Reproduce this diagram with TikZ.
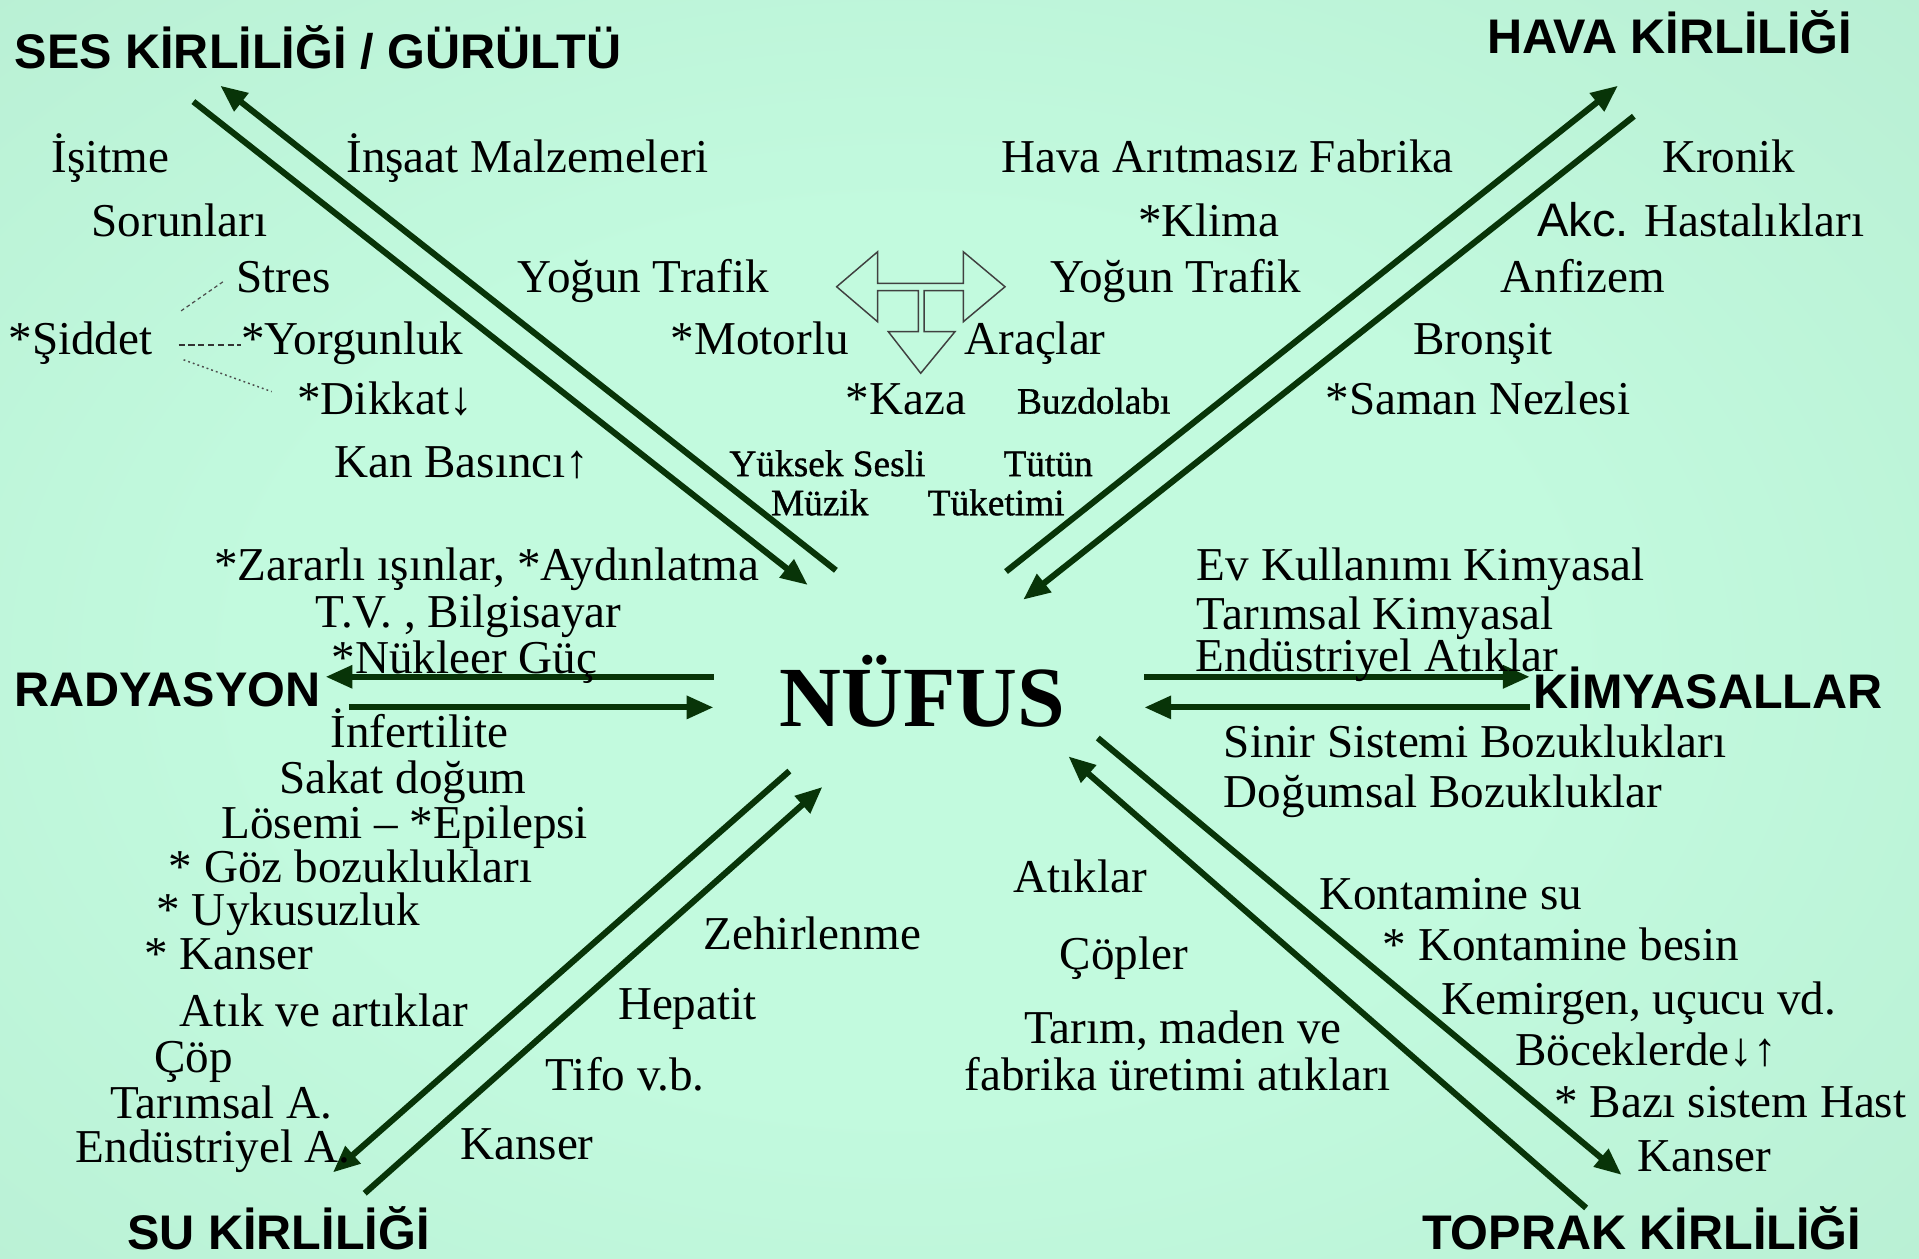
\documentclass[tikz,border=0pt]{standalone}
\usepackage{fontspec}
\setmainfont{Liberation Serif}
\newfontfamily\hfont{Liberation Sans}
\newfontfamily\smfont[FakeBold=0.9]{Liberation Serif}
\usetikzlibrary{arrows.meta}
\definecolor{bgin}{RGB}{194,250,222}
\definecolor{bgmid}{RGB}{170,222,196}
\definecolor{bgout}{RGB}{156,206,180}
\definecolor{arr}{RGB}{8,52,8}
\pgfdeclareradialshading{bgshade}{\pgfpoint{0bp}{0bp}}{color(0bp)=(bgin); color(14bp)=(bgin); color(56bp)=(bgmid); color(70bp)=(bgout)}
\begin{document}
\begin{tikzpicture}[x=1pt,y=-1pt,
  every node/.style={inner sep=0pt,outer sep=0pt},
  txt/.style={font=\fontsize{38.5}{44}\selectfont,anchor=base west},
  smalltxt/.style={font=\smfont\fontsize{30.5}{35}\selectfont,anchor=base west},
  headtxt/.style={font=\hfont\bfseries\fontsize{39.7}{44}\selectfont,anchor=base west},
  bigarrow/.style={draw=arr,line width=5pt,-{Triangle[length=22pt,width=18pt]}},
  dashlink/.style={draw=black!70,line width=1pt,dash pattern=on 3pt off 2.5pt},
  hyphlink/.style={draw=black!80,line width=1.6pt,dash pattern=on 5pt off 3pt},
  dotlink/.style={draw=black!70,line width=1.2pt,dash pattern=on 1.5pt off 2.5pt},
  blockarrow/.style={draw=black!75,line width=1.2pt}]
\useasboundingbox (0,0) rectangle (1568,1028);
\begin{scope}
\clip (0,0) rectangle (1568,1028);
\shade[shading=bgshade] (-210,-110) rectangle (1690,1190);
\end{scope}

% arrow end points
\coordinate (sesA1) at (158,83);  \coordinate (sesA2) at (660,478);
\coordinate (sesB1) at (683,466); \coordinate (sesB2) at (180,70);
\coordinate (havC1) at (822,467); \coordinate (havC2) at (1322,70);
\coordinate (havD1) at (1335,95); \coordinate (havD2) at (836,490);
\coordinate (radU1) at (583,553); \coordinate (radU2) at (266,553);
\coordinate (radL1) at (285,578); \coordinate (radL2) at (583,578);
\coordinate (kimU1) at (935,553); \coordinate (kimU2) at (1250,553);
\coordinate (kimL1) at (1250,578); \coordinate (kimL2) at (935,578);
\coordinate (suE1) at (645,630);  \coordinate (suE2) at (272,958);
\coordinate (suF1) at (298,975);  \coordinate (suF2) at (672,643);
\coordinate (topG1) at (897,603); \coordinate (topG2) at (1325,960);
\coordinate (topH1) at (1296,987); \coordinate (topH2) at (873,618);

\draw[bigarrow] (sesA1) -- (sesA2);
\draw[bigarrow] (sesB1) -- (sesB2);
\draw[bigarrow] (havC1) -- (havC2);
\draw[bigarrow] (havD1) -- (havD2);
\draw[bigarrow] (radU1) -- (radU2);
\draw[bigarrow] (radL1) -- (radL2);
\draw[bigarrow] (kimU1) -- (kimU2);
\draw[bigarrow] (kimL1) -- (kimL2);
\draw[bigarrow] (suE1) -- (suE2);
\draw[bigarrow] (suF1) -- (suF2);
\draw[bigarrow] (topG1) -- (topG2);
\draw[bigarrow] (topH1) -- (topH2);

% three-headed block arrow
\draw[blockarrow] (683.6,234.3) -- (717.1,205.7) -- (717.1,231.5) -- (787.1,231.5) -- (787.1,205.7)
  -- (821.2,234.3) -- (787.1,262.9) -- (787.1,237.5) -- (755,237.5) -- (755,271) -- (780.3,271)
  -- (752.3,305) -- (725.8,271) -- (750.3,271) -- (750.3,237.5) -- (717.1,237.5) -- (717.1,262.9) -- cycle;

% headings
\node[headtxt] (ses) at (12,56) {SES KİRLİLİĞİ / GÜRÜLTÜ};
\node[headtxt] (hava) at (1215,44) {HAVA KİRLİLİĞİ};
\node[headtxt] (rad) at (12,577) {RADYASYON};
\node[headtxt] (kim) at (1253,579) {KİMYASALLAR};
\node[headtxt] (su) at (104,1021) {SU KİRLİLİĞİ};
\node[headtxt] (toprak) at (1162,1021) {TOPRAK KİRLİLİĞİ};
\node[font=\bfseries\fontsize{70}{78}\selectfont,anchor=base west] (nufus) at (637,594) {NÜFUS};

% noise
\node[txt] (isitme) at (42,141) {İşitme};
\node[txt] (sorun) at (75,193) {Sorunları};
\node[txt] (stres) at (193,239) {Stres};
\node[txt] (siddet) at (7,290) {*Şiddet};
\node[txt] (yorg) at (197,290) {*Yorgunluk};
\node[txt] (dikkat) at (243,339) {*Dikkat↓};
\node[txt] (kan) at (273,390) {Kan Basıncı↑};
\node[txt] (insaat) at (283,141) {İnşaat Malzemeleri};
\node[txt] (yogun1) at (423,239) {Yoğun Trafik};
\node[txt] (motor) at (548,290) {*Motorlu};
\node[txt] (arac) at (788,290) {Araçlar};
\node[txt] (kaza) at (691,339) {*Kaza};
\node[smalltxt] (buz) at (831,338) {Buzdolabı};
\node[smalltxt] (yuksek) at (596,389) {Yüksek Sesli};
\node[smalltxt] (muzik) at (630,421) {Müzik};
\node[smalltxt] (tutun) at (820,389) {Tütün};
\node[smalltxt] (tuket) at (758,421) {Tüketimi};

\coordinate (dS1) at (148,254); \coordinate (dS2) at (184,229);
\coordinate (dY1) at (146,282); \coordinate (dY2) at (197,282);
\coordinate (dD1) at (150,294); \coordinate (dD2) at (222,320);
\draw[dashlink] (dS1) -- (dS2);
\draw[hyphlink] (dY1) -- (dY2);
\draw[dotlink] (dD1) -- (dD2);

% air
\node[txt] (fabrika) at (818,141) {Hava Arıtmasız Fabrika};
\node[txt] (klima) at (930,193) {*Klima};
\node[txt] (yogun2) at (858,239) {Yoğun Trafik};
\node[txt] (kronik) at (1358,141) {Kronik};
\node[txt] (akc) at (1256,193) {{\hfont Akc.} Hastalıkları};
\node[txt] (anfizem) at (1226,239) {Anfizem};
\node[txt] (bronsit) at (1155,290) {Bronşit};
\node[txt] (saman) at (1083,339) {*Saman Nezlesi};

% radiation
\node[txt] (zarar) at (175,474) {*Zararlı ışınlar, *Aydınlatma};
\node[txt] (tv) at (258,513) {T.V. , Bilgisayar};
\node[txt] (nukleer) at (271,550) {*Nükleer Güç};
\node[txt] (infert) at (270,611) {İnfertilite};
\node[txt] (sakat) at (228,648) {Sakat doğum};
\node[txt] (losemi) at (181,685) {Lösemi – *Epilepsi};
\node[txt] (goz) at (138,721) {* Göz bozuklukları};
\node[txt] (uyku) at (128,756) {* Uykusuzluk};
\node[txt] (kanser1) at (118,792) {* Kanser};

% chemicals
\node[txt] (evk) at (978,474) {Ev Kullanımı Kimyasal};
\node[txt] (tarimk) at (978,514) {Tarımsal Kimyasal};
\node[txt] (endk) at (977,549) {Endüstriyel Atıklar};
\node[txt] (sinir) at (1000,619) {Sinir Sistemi Bozuklukları};
\node[txt] (dogum) at (1000,660) {Doğumsal Bozukluklar};

% water
\node[txt] (atik) at (147,839) {Atık ve artıklar};
\node[txt] (cop) at (126,876) {Çöp};
\node[txt] (tarimA) at (90,914) {Tarımsal A.};
\node[txt] (endA) at (62,950) {Endüstriyel A.};
\node[txt] (zehir) at (575,776) {Zehirlenme};
\node[txt] (hepatit) at (505,833) {Hepatit};
\node[txt] (tifo) at (446,891) {Tifo v.b.};
\node[txt] (kanser2) at (376,947) {Kanser};

% soil
\node[txt] (atiklar) at (828,729) {Atıklar};
\node[txt] (copler) at (866,792) {Çöpler};
\node[txt] (tarim) at (837,853) {Tarım, maden ve};
\node[txt] (fabr) at (788,891) {fabrika üretimi atıkları};
\node[txt] (kontsu) at (1078,743) {Kontamine su};
\node[txt] (kontbes) at (1130,785) {* Kontamine besin};
\node[txt] (kemir) at (1178,829) {Kemirgen, uçucu vd.};
\node[txt] (bocek) at (1238,871) {Böceklerde↓↑};
\node[txt] (bazi) at (1270,913) {* Bazı sistem Hast};
\node[txt] (kanser3) at (1338,957) {Kanser};
\end{tikzpicture}
\end{document}
